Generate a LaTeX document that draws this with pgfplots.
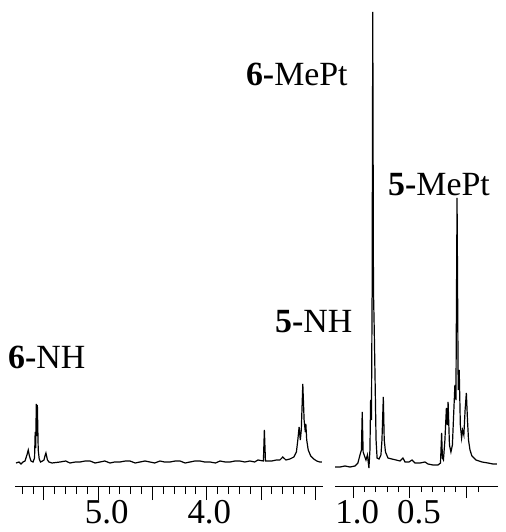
\documentclass[border=0pt]{standalone}
\usepackage{fontspec}
\setmainfont{Liberation Serif}
\usepackage{pgfplots}
\pgfplotsset{compat=1.18}

% 1H NMR traces, ppm vs. intensity (arbitrary units)
\pgfplotstableread{
ppm    h
5.758  23
5.730  24
5.712  22
5.693  24
5.675  25
5.657  31
5.645  36
5.634  30
5.620  25
5.601  24
5.587  28
5.581  54
5.576  38
5.571  82
5.565  50
5.561  81
5.553  36
5.544  27
5.532  24
5.514  25
5.500  26
5.491  30
5.482  33
5.468  26
5.454  24
5.426  23
5.353  24
5.300  25
5.261  23
5.210  24
5.169  24
5.120  25
5.076  25
5.030  23
4.984  24
4.940  25
4.892  23
4.850  24
4.800  24
4.750  25
4.708  25
4.660  23
4.616  24
4.570  25
4.524  24
4.480  23
4.432  25
4.390  24
4.340  24
4.290  25
4.247  25
4.200  23
4.155  24
4.110  25
4.063  25
4.020  24
3.971  24
3.920  23
3.879  25
3.830  24
3.787  24
3.740  25
3.695  25
3.650  24
3.603  25
3.560  24
3.529  26
3.479  25
3.470  56
3.460  25
3.401  25
3.360  26
3.327  26
3.300  29
3.272  26
3.235  27
3.198  29
3.175  34
3.162  46
3.150  59
3.139  46
3.130  56
3.116  102
3.104  66
3.093  54
3.088  62
3.080  46
3.066  36
3.043  30
3.015  27
2.988  25
2.960  24
2.941  24
}\nhtable

\pgfplotstableread{
ppm     h
1.161   19
1.117   19
1.073   20
1.029   19
0.985   20
0.959   23
0.941   31
0.928   36
0.921   74
0.913   34
0.901   30
0.888   26
0.875   31
0.862   18
0.853   36
0.847   86
0.840   66
0.834   186
0.828   474
0.822   196
0.815   156
0.808   109
0.799   46
0.790   28
0.773   27
0.756   31
0.747   46
0.735   89
0.727   46
0.716   34
0.694   28
0.659   27
0.623   26
0.588   25
0.562   28
0.544   24
0.509   24
0.482   26
0.456   23
0.412   23
0.368   24
0.341   22
0.297   21
0.253   21
0.231   23
0.221   53
0.214   28
0.205   26
0.192   46
0.179   78
0.172   61
0.164   84
0.152   41
0.139   34
0.126   41
0.117   66
0.104   101
0.095   86
0.085   288
0.075   96
0.066   116
0.056   61
0.045   48
0.036   56
0.025   51
0.014   76
0.003   93
-0.007  66
-0.016  46
-0.029  36
-0.046  30
-0.082  26
-0.135  24
-0.188  23
-0.232  22
-0.267  22
}\metable

\pgfplotsset{
  nmr/.style={
    scale only axis,
    height=474bp,
    ymin=0, ymax=474,
    x dir=reverse,
    axis x line=bottom,
    axis y line=none,
    axis line style={-, line width=1bp},
    every tick/.style={black, line width=1bp},
    tick align=outside,
    ytick=\empty,
    clip=false,
    xticklabel style={font=\fontsize{35}{40}\selectfont},
  },
}
\tikzset{lbl/.style={font=\fontsize{34}{40}\selectfont, inner sep=0pt}}

\begin{document}
\begin{tikzpicture}
\useasboundingbox (0bp,0bp) rectangle (506bp,532bp);

% left panel: NH region
\begin{axis}[nmr,
  at={(15bp,46bp)}, anchor=south west,
  width=308bp,
  xmin=2.93, xmax=5.767,
  xtick={3.0,3.5,4.0,4.5,5.0,5.5},
  xticklabels={,,\hspace*{5bp}4.0,,\hspace*{17bp}5.0,},
  xticklabel style={yshift=3bp},
  minor xtick={3.1,3.2,3.3,3.4,3.6,3.7,3.8,3.9,4.1,4.2,4.3,4.4,4.6,4.7,4.8,4.9,5.1,5.2,5.3,5.4,5.6,5.7},
  major tick length=14bp, minor tick length=8bp,
]
\addplot[black, line width=1.2bp, mark=none] table[x=ppm, y=h] {\nhtable};
\node[lbl, anchor=base west] at (axis cs:5.831,117) {\textbf{6-}NH};
\node[lbl, anchor=base west] at (axis cs:3.373,153) {\textbf{5-}NH};
\node[lbl, anchor=base east] at (axis cs:2.701,400) {\textbf{6-}MePt};
\end{axis}

% right panel: Pt-CH3 region
\begin{axis}[nmr,
  at={(335bp,46bp)}, anchor=south west,
  width=163bp,
  xmin=-0.276, xmax=1.161,
  xtick={0.0,0.5,1.0},
  xticklabels={,\hspace*{18bp}0.5,\hspace*{8bp}1.0},
  xticklabel style={yshift=1bp},
  minor xtick={-0.1,0.1,0.2,0.3,0.4,0.6,0.7,0.8,0.9},
  major tick length=12bp, minor tick length=6bp,
]
\addplot[black, line width=1.2bp, mark=none] table[x=ppm, y=h] {\metable};
\node[lbl, anchor=base west] at (axis cs:0.694,290) {\textbf{5-}MePt};
\end{axis}
\end{tikzpicture}
\end{document}
